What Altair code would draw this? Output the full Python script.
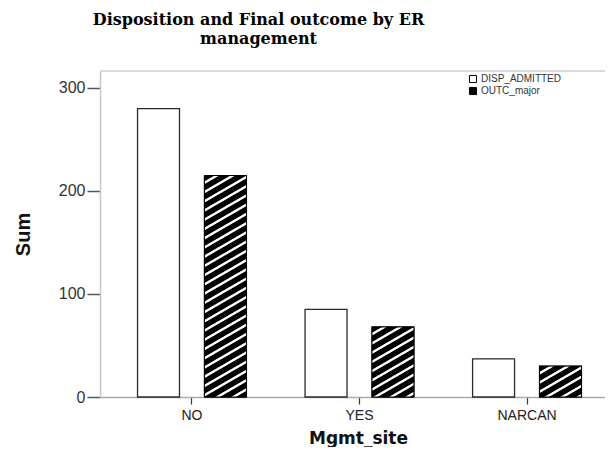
import math
import altair as alt
import pandas as pd

# ---- data ----
categories = ["NO", "YES", "NARCAN"]
series = ["DISP_ADMITTED", "OUTC_major"]
disp_admitted = [280, 85, 37]
outc_major = [215, 68, 30]
y_ticks = [0, 100, 200, 300]

# ---- layout constants ----
PLOT_W = 505
PLOT_H = 326
Y_MAX = 316.5
X_RANGE = 519
BAR_W = 42

rows = []
for c, d, o in zip(categories, disp_admitted, outc_major):
    rows.append({"site": c, "series": series[0], "value": d})
    rows.append({"site": c, "series": series[1], "value": o})
df = pd.DataFrame(rows)


def hatch_gradient(w, h, period=8.0, angle_deg=30.0):
    """Diagonal black/white stripes as a linear gradient (bbox units)."""
    a = math.sin(math.radians(angle_deg))
    b = math.cos(math.radians(angle_deg))
    D = a * w + b * h
    c = D / (a * a * w * w + b * b * h * h)
    dx = a * c * w
    dy = b * c * h
    n = D / period
    P = 1.0 / n
    pattern = [(0.0, "#000000"), (0.58, "#000000"), (0.68, "#ffffff"),
               (0.88, "#ffffff"), (0.98, "#000000")]
    stops = []
    last = -1.0
    k = 0
    while k * P <= 1.0:
        for frac, col in pattern:
            off = k * P + frac * P
            if off > 1.0:
                break
            off = round(off, 5)
            if off < last:
                off = last
            stops.append(alt.GradientStop(offset=off, color=col))
            last = off
        k += 1
    return alt.LinearGradient(gradient="linear", stops=stops,
                              x1=0, y1=0, x2=round(dx, 5), y2=round(dy, 5))


x_enc = alt.X(
    "site:N",
    scale=alt.Scale(domain=categories, range=[0, X_RANGE],
                    paddingInner=0.35, paddingOuter=0.224),
    axis=alt.Axis(
        title="Mgmt_site", labelAngle=0, labelFont="Liberation Sans",
        labelFontSize=14, labelColor="#222", labelPadding=4,
        tickSize=7, tickColor="#333", tickWidth=1.2,
        domainColor="#aaaaaa", domainWidth=1.5,
        titleFont="DejaVu Sans", titleFontSize=17, titleFontWeight="bold",
        titleColor="#111", titleX=258, titleY=41, titleBaseline="middle",
        titleAlign="center",
    ),
)
xoff_enc = alt.XOffset(
    "series:N", scale=alt.Scale(domain=series, paddingInner=0.373, paddingOuter=0)
)
y_enc = alt.Y(
    "value:Q",
    scale=alt.Scale(domain=[0, Y_MAX], nice=False, zero=True),
    axis=alt.Axis(
        title="Sum", values=y_ticks, grid=False,
        labelFont="Liberation Sans", labelFontSize=16, labelColor="#333",
        labelPadding=2, tickSize=13, tickColor="#555", tickWidth=1.5,
        domainColor="#c8c8c8", domainWidth=1.5,
        titleFont="Liberation Sans", titleFontSize=20, titleFontWeight="bold",
        titleColor="#111", titleAngle=270, titleX=-77, titleY=PLOT_H / 2,
        titleBaseline="middle", titleAlign="center",
    ),
)

base = alt.Chart(df).mark_bar(stroke="#2a2a2a", strokeWidth=1.3).encode(
    x=x_enc,
    xOffset=xoff_enc,
    y=y_enc,
    fill=alt.Fill(
        "series:N",
        scale=alt.Scale(domain=series, range=["white", "black"]),
        legend=alt.Legend(
            title=None, orient="none", legendX=368, legendY=3,
            symbolType="square", symbolSize=50, symbolStrokeColor="black",
            symbolStrokeWidth=1, labelFont="Liberation Sans", labelFontSize=10,
            labelColor="#333", rowPadding=0, padding=0, labelOffset=3,
        ),
    ),
)

layers = [base]
for cat, val in zip(categories, outc_major):
    h_px = val * PLOT_H / Y_MAX
    grad = hatch_gradient(BAR_W, h_px)
    layer = (
        alt.Chart(df)
        .transform_filter(
            (alt.datum.site == cat) & (alt.datum.series == series[1])
        )
        .mark_bar(fill=grad, stroke="black", strokeWidth=1)
        .encode(x=x_enc, xOffset=xoff_enc, y=y_enc)
    )
    layers.append(layer)

top_line = alt.Chart(pd.DataFrame({"k": [0]})).mark_rule(
    color="#cfcfcf", strokeWidth=1.5
).encode(x=alt.value(0), x2=alt.value(PLOT_W), y=alt.value(0))
layers.append(top_line)

chart = (
    alt.layer(*layers)
    .properties(
        width=PLOT_W,
        height=PLOT_H,
        autosize=alt.AutoSizeParams(type="none"),
        padding={"left": 92, "top": 63, "right": 0, "bottom": 50},
        title=alt.TitleParams(
            text=["Disposition and Final outcome by ER", "management"],
            font="DejaVu Serif", fontSize=16, fontWeight="bold",
            color="black", anchor="middle", frame="group", dx=-94,
            offset=23, lineHeight=19,
        ),
        background="white",
    )
    .configure_view(stroke=None)
)

chart.save("out.html", embed_options={"renderer": "svg", "actions": False})
